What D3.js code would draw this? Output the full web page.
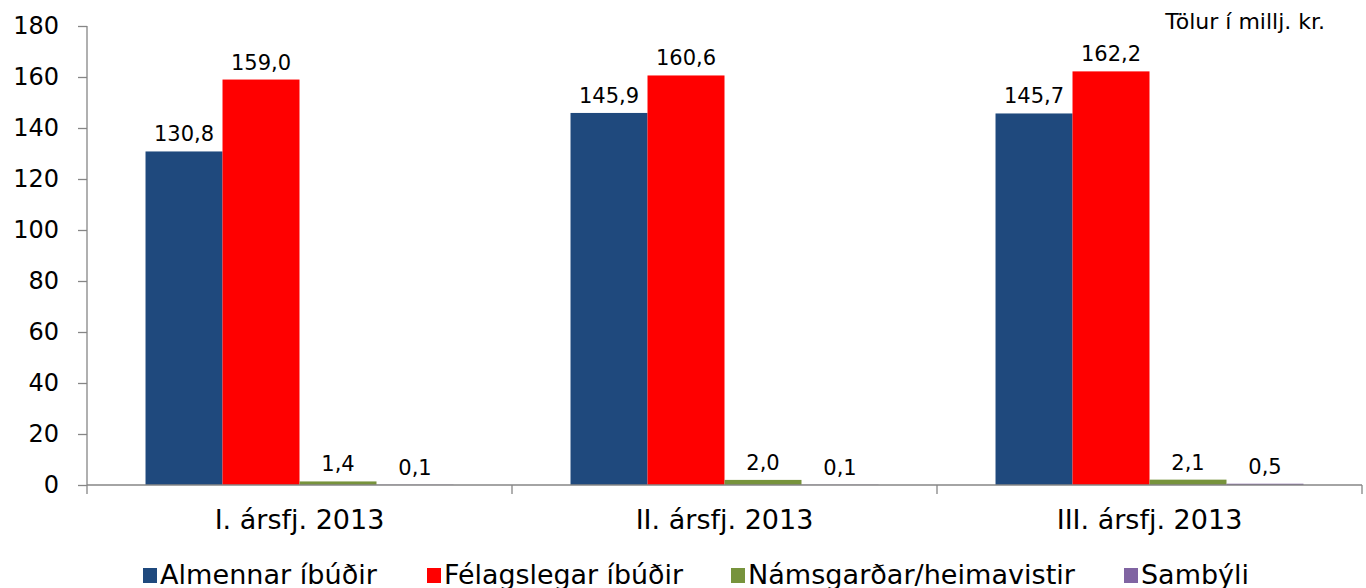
<!DOCTYPE html>
<html><head><meta charset="utf-8">
<script src="https://cdn.jsdelivr.net/npm/d3@7"></script>
<style>body{margin:0;background:#fff;} svg{display:block;font-family:"DejaVu Sans",Verdana,sans-serif;}</style>
</head><body>
<svg id="c" width="1366" height="588"></svg>
<script>
const categories = ["I. ársfj. 2013", "II. ársfj. 2013", "III. ársfj. 2013"];
const seriesNames = ["Almennar íbúðir", "Félagslegar íbúðir", "Námsgarðar/heimavistir", "Sambýli"];
const almennar = [130.8, 145.9, 145.7];
const felagslegar = [159.0, 160.6, 162.2];
const namsgardar = [1.4, 2.0, 2.1];
const sambyli = [0.1, 0.1, 0.5];
const yTicks = [0, 20, 40, 60, 80, 100, 120, 140, 160, 180];
const colors = ["#1F497D", "#FF0000", "#77933C", "#8064A2"];
const unitLabel = "Tölur í millj. kr.";

const series = [almennar, felagslegar, namsgardar, sambyli];
const svg = d3.select("#c");
const x0 = d3.scaleBand().domain(categories).range([87, 1362]).paddingInner(0).paddingOuter(0);
const x1 = d3.scaleBand().domain(d3.range(4)).range([0, x0.bandwidth()]).paddingInner(0).paddingOuter(0.76);
const y = d3.scaleLinear().domain([0, 180]).range([485, 26]);
const fmt = v => d3.format(".1f")(v).replace(".", ",");

// bars
categories.forEach((c, ci) => {
  series.forEach((s, si) => {
    const v = s[ci];
    svg.append("rect")
      .attr("x", x0(c) + x1(si)).attr("width", x1.bandwidth())
      .attr("y", y(v)).attr("height", y(0) - y(v))
      .attr("fill", colors[si]);
    svg.append("text")
      .attr("x", x0(c) + x1(si) + x1.bandwidth() / 2)
      .attr("y", y(v) - 10)
      .attr("text-anchor", "middle").attr("font-size", 21).attr("fill", "#000")
      .text(fmt(v));
  });
});

// y axis
const yAxis = svg.append("g").attr("transform", "translate(87,0)")
  .call(d3.axisLeft(y).tickValues(yTicks).tickSize(9).tickPadding(19).tickFormat(d3.format("d")));
yAxis.select(".domain").attr("stroke", "#868686").attr("stroke-width", 1.3).attr("d", "M0,26V485");
yAxis.selectAll(".tick line").attr("stroke", "#868686").attr("stroke-width", 1.3);
yAxis.selectAll(".tick text").attr("font-size", 24).attr("fill", "#000").attr("font-family", "DejaVu Sans");

// x axis
const xAxis = svg.append("g").attr("transform", "translate(0,485)")
  .call(d3.axisBottom(x0).tickSize(0).tickPadding(25));
xAxis.select(".domain").attr("stroke", "#868686").attr("stroke-width", 1.3).attr("d", "M87,0H1362");
xAxis.selectAll(".tick text").attr("font-size", 27).attr("fill", "#000").attr("font-family", "DejaVu Sans");
const bounds = [87].concat(categories.map(c => x0(c) + x0.bandwidth()));
svg.append("g").selectAll("line").data(bounds).join("line")
  .attr("x1", d => d).attr("x2", d => d).attr("y1", 485).attr("y2", 494)
  .attr("stroke", "#868686").attr("stroke-width", 1.3);

// unit label
svg.append("text").attr("x", 1325).attr("y", 29).attr("text-anchor", "end")
  .attr("font-size", 22).attr("fill", "#000").text(unitLabel);

// legend
const legX = [143, 427, 731, 1124];
const legW = [217, 239, 327, 108];
seriesNames.forEach((n, i) => {
  svg.append("rect").attr("x", legX[i]).attr("y", 568).attr("width", 14).attr("height", 15).attr("fill", colors[i]);
  svg.append("text").attr("x", legX[i] + 17).attr("y", 584).attr("font-size", 26)
    .attr("textLength", legW[i]).attr("lengthAdjust", "spacingAndGlyphs").attr("fill", "#000").text(n);
});
</script>
</body></html>
